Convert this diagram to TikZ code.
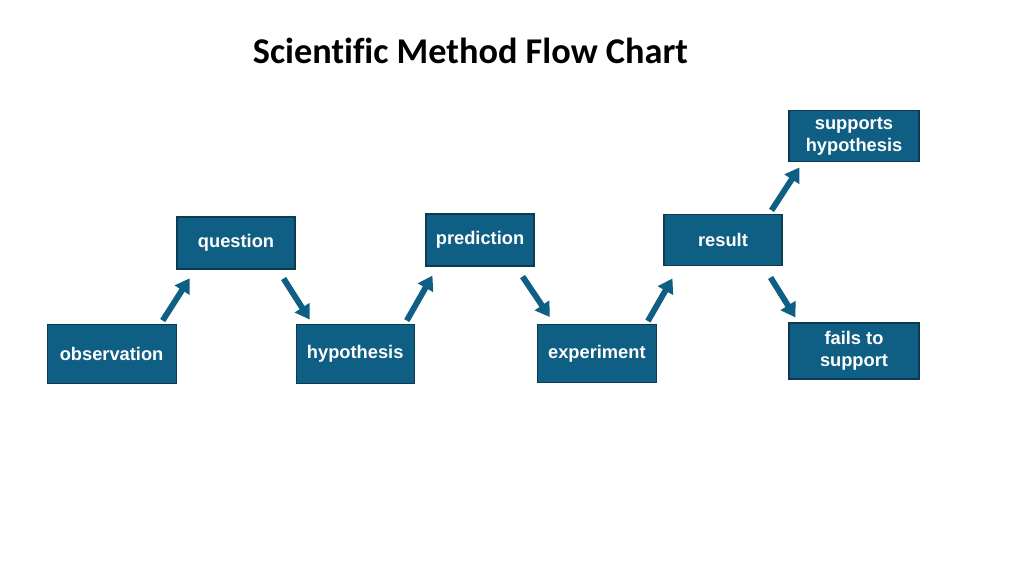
\documentclass[tikz,border=0pt]{standalone}
\usepackage{fontspec}
\setmainfont{Liberation Sans}
\newfontfamily\titlefont[Ligatures=NoCommon]{Carlito}
\usepackage{tikz}
\usetikzlibrary{arrows.meta,positioning}

\definecolor{stepblue}{HTML}{0F5E83}
\definecolor{stepedge}{HTML}{0B3B52}

\begin{document}
\begin{tikzpicture}[
    box/.style={
      rectangle, draw=stepedge, line width=0.8pt, fill=stepblue,
      text=white, align=center, font=\fontsize{13}{15.5}\selectfont\bfseries,
      inner sep=2pt
    },
    arr/.style={-{Triangle[length=10pt,width=12pt]}, line width=4.2pt, stepblue},
  ]
  \useasboundingbox (0,0) rectangle (25.6,14.4);

  % Title
  \node[font=\titlefont\fontsize{25.8}{30}\selectfont\bfseries] (title) at (11.76,13.12)
    {Scientific Method Flow Chart};

  % Lower row
  \node[box, minimum width=3.225cm, minimum height=1.475cm] (obs) at (2.79,5.56) {observation};
  \node[box, minimum width=2.95cm, minimum height=1.475cm, right=2.975cm of obs] (hyp) {hypothesis};
  \node[box, minimum width=2.975cm, minimum height=1.45cm, right=3.05cm of hyp] (exp) {experiment};

  % Upper row
  \node[box, minimum width=2.95cm, minimum height=1.3cm] (quest) at (5.9,8.325) {question};
  \node[box, minimum width=2.7cm, minimum height=1.3cm] (pred) at (12.0,8.4) {prediction};
  \node[box, minimum width=2.95cm, minimum height=1.275cm] (result) at (18.075,8.39) {result};

  % Outcomes
  \node[box, minimum width=3.25cm, minimum height=1.275cm] (supp) at (21.35,10.99) {supports\\hypothesis};
  \node[box, minimum width=3.25cm, minimum height=1.4cm] (fail) at (21.35,5.625) {fails to\\support};

  % Arrows
  \draw[arr] ([shift={(-0.35,0.075)}]obs.north east) -- ([shift={(0.33,-0.22)}]quest.south west);
  \draw[arr] ([shift={(-0.3,-0.225)}]quest.south east) -- ([shift={(0.35,0.1)}]hyp.north west);
  \draw[arr] ([shift={(-0.2,0.075)}]hyp.north east) -- ([shift={(0.175,-0.225)}]pred.south west);
  \draw[arr] ([shift={(-0.3,-0.25)}]pred.south east) -- ([shift={(0.325,0.175)}]exp.north west);
  \draw[arr] ([shift={(-0.225,0.075)}]exp.north east) -- ([shift={(0.225,-0.3)}]result.south west);
  \draw[arr] ([shift={(-0.275,0.1)}]result.north east) -- ([shift={(0.275,-0.125)}]supp.south west);
  \draw[arr] ([shift={(-0.3,-0.275)}]result.south east) -- ([shift={(0.175,0.125)}]fail.north west);

\end{tikzpicture}
\end{document}
